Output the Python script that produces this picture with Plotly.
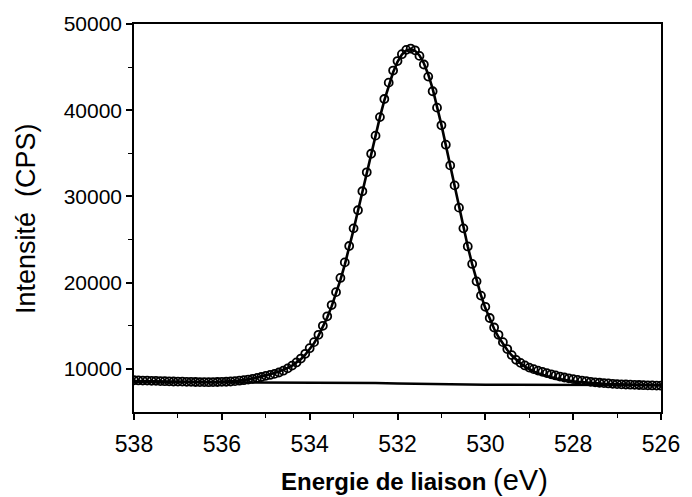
import plotly.graph_objects as go

# Binding energy grid (eV), 538.0 -> 526.0 in 0.1 eV steps
energy = [round(538.0 - 0.1 * i, 1) for i in range(121)]

# Measured intensity (CPS)
counts = [
    8680, 8660, 8650, 8640, 8620, 8610, 8590, 8570, 8560, 8540, 8530,
    8520, 8500, 8490, 8480, 8470, 8470, 8460, 8470, 8480, 8490,
    8510, 8540, 8580, 8630, 8690, 8760, 8850, 8950, 9060, 9190,
    9300, 9420, 9580, 9790, 10060, 10380, 10750, 11200, 11750, 12400,
    13100, 13950, 15000, 16100, 17400, 18900, 20550, 22350, 24250, 26300,
    28400, 30600, 32800, 34950, 37050, 39200, 41300, 43200, 44600, 45700,
    46500, 47000, 47150, 46950, 46300, 45300, 43900, 42200, 40300, 38250,
    36000, 33600, 31280, 28700, 26300, 24200, 22170, 20150, 18500, 17200,
    15900, 14800, 13950, 13100, 12300, 11600, 11050, 10700, 10400, 10150,
    9970, 9800, 9650, 9510, 9370, 9240, 9110, 9000, 8900, 8810,
    8720, 8640, 8570, 8500, 8440, 8390, 8350, 8310, 8270, 8240,
    8210, 8190, 8170, 8150, 8130, 8110, 8090, 8080, 8060, 8050,
]

# Fitted envelope (CPS)
fit = [
    8600, 8590, 8580, 8570, 8560, 8550, 8540, 8530, 8520, 8510, 8500,
    8490, 8480, 8475, 8470, 8470, 8470, 8475, 8480, 8490, 8500,
    8520, 8550, 8590, 8640, 8700, 8780, 8870, 8980, 9100, 9230,
    9370, 9520, 9680, 9880, 10110, 10380, 10720, 11130, 11640, 12260,
    12980, 13830, 14820, 15960, 17250, 18700, 20320, 22100, 24050, 26150,
    28350, 30600, 32850, 35050, 37150, 39200, 41150, 42900, 44400, 45600,
    46450, 46950, 47100, 46900, 46350, 45450, 44150, 42500, 40500, 38300,
    35950, 33550, 31150, 28750, 26400, 24200, 22150, 20250, 18550, 17050,
    15750, 14650, 13700, 12880, 12180, 11580, 11070, 10640, 10270, 9960,
    9700, 9480, 9290, 9130, 8990, 8870, 8770, 8680, 8610, 8550,
    8490, 8440, 8400, 8360, 8330, 8300, 8270, 8250, 8230, 8210,
    8190, 8175, 8160, 8150, 8140, 8130, 8120, 8110, 8100, 8090,
]

# Background (CPS), 0.5 eV steps
bg_energy = [round(538.0 - 0.5 * i, 1) for i in range(25)]
background = [
    8480, 8475, 8470, 8465, 8460, 8455, 8450, 8440, 8430, 8415, 8395,
    8360, 8310, 8260, 8215, 8185, 8165, 8155, 8150, 8145, 8140, 8135,
    8130, 8125, 8120,
]

x_ticks = [538, 536, 534, 532, 530, 528, 526]
y_ticks = [10000, 20000, 30000, 40000, 50000]

fig = go.Figure()
fig.add_trace(go.Scatter(x=bg_energy, y=background, mode="lines",
                         line=dict(color="black", width=2.4), showlegend=False))
fig.add_trace(go.Scatter(x=energy, y=fit, mode="lines",
                         line=dict(color="black", width=2.6), showlegend=False))
fig.add_trace(go.Scatter(x=energy, y=counts, mode="markers",
                         marker=dict(symbol="circle-open", size=8, color="black",
                                     line=dict(width=1.8, color="black")),
                         showlegend=False))

font_family = "Liberation Sans, Arial, sans-serif"
fig.update_layout(
    width=692, height=497,
    margin=dict(l=134, r=25, t=24, b=85),
    paper_bgcolor="white", plot_bgcolor="white",
    font=dict(family=font_family, color="black"),
    xaxis=dict(range=[538, 526], tickvals=x_ticks, ticktext=[str(v) for v in x_ticks],
               ticks="outside", ticklen=6, tickwidth=1.5, tickcolor="black",
               minor=dict(dtick=1, ticks="outside", ticklen=4, tickwidth=1.2, tickcolor="black"),
               showline=True, linecolor="black", linewidth=1.5, mirror=True,
               showgrid=False, zeroline=False, tickfont=dict(size=23),
               ticklabelstandoff=5),
    yaxis=dict(range=[5000, 50000], tickvals=y_ticks, ticktext=[str(v) for v in y_ticks],
               ticks="outside", ticklen=6, tickwidth=1.5, tickcolor="black",
               minor=dict(tickvals=[15000, 25000, 35000, 45000], ticks="outside",
                          ticklen=4, tickwidth=1.2, tickcolor="black"),
               showline=True, linecolor="black", linewidth=1.5, mirror=True,
               showgrid=False, zeroline=False, tickfont=dict(size=21)),
)

fig.add_annotation(xref="paper", yref="paper", x=0.533, y=-0.175, xanchor="center",
                   yanchor="middle", showarrow=False,
                   text="<b>Energie de liaison</b> <span style='font-size:29px'>(eV)</span>",
                   font=dict(size=24, family=font_family, color="black"))
fig.add_annotation(xref="paper", yref="paper", x=-0.205, y=0.5, xanchor="center",
                   yanchor="middle", showarrow=False, textangle=-90,
                   text="Intensité  (CPS)",
                   font=dict(size=27, family=font_family, color="black"))

fig.write_html("out.html")
